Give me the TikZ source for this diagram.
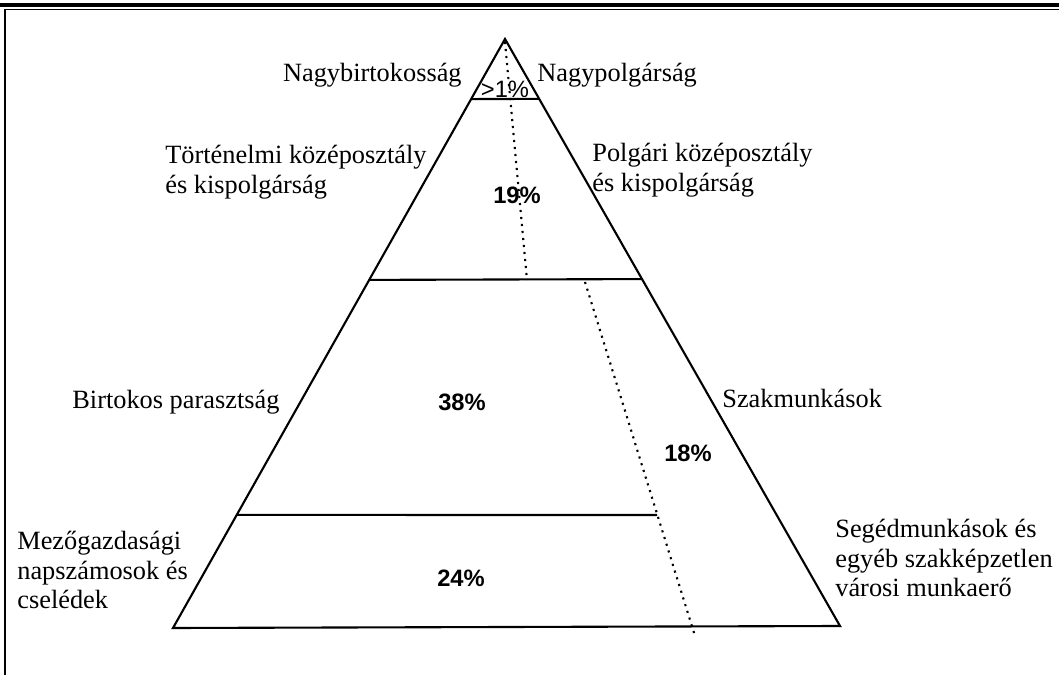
\documentclass[tikz,border=0pt]{standalone}
\usepackage{fontspec}
\setmainfont{Liberation Serif}
\newfontfamily\pctfont{Liberation Sans}
\usetikzlibrary{calc}

\tikzset{
  layerlabel/.style={font=\fontsize{15}{17}\selectfont, align=left, inner sep=0pt},
  percent/.style={font=\pctfont\bfseries\fontsize{13.5}{15}\selectfont, inner sep=0pt},
  edge/.style={line width=1.2pt},
  divider/.style={line width=1.2pt, dash pattern=on 1.2pt off 2.8pt},
}

\begin{document}
\begin{tikzpicture}[x=0.02cm,y=-0.02cm]
    \useasboundingbox (0,0) rectangle (1059,675);
    % frame
    \draw[line width=2pt] (0,5) -- (1059,5);
    \draw[line width=1pt] (5,9.5) -- (1059,9.5);
    \draw[line width=1.2pt] (5,9.5) -- (5,675);

    % pyramid
    \coordinate (apex) at (505,39);
    \coordinate (bl) at (173,628);
    \coordinate (br) at (840,626);
    \draw[edge] (apex) -- (bl) -- (br) -- cycle;

    % layer boundaries
    \draw[edge] ($(apex)!0.102!(bl)$) -- ($(apex)!0.102!(br)$);
    \draw[edge] ($(apex)!0.409!(bl)$) -- ($(apex)!0.409!(br)$);
    \coordinate (cut) at (657,515);
    \draw[edge] ($(apex)!0.808!(bl)$) -- (cut);

    % dotted dividers
    \coordinate (d1a) at (505,42);
    \coordinate (d1b) at (527,280);
    \coordinate (d2a) at (585,282);
    \coordinate (d2b) at (695,636);
    \draw[divider] (d1a) -- (d1b);
    \draw[divider] (d2a) -- (d2b);

    % labels
    \node[layerlabel, anchor=east] (nagybirt) at (462,75) {Nagybirtokosság};
    \node[layerlabel, anchor=west] (nagypolg) at (537,75) {Nagypolgárság};
    \node[font=\pctfont\fontsize{13.5}{15}\selectfont, inner sep=0pt] (ptop) at (505,89) {>1\%};
    \node[layerlabel, anchor=west] (tortenelmi) at (165,172) {Történelmi középosztály\\és kispolgárság};
    \node[layerlabel, anchor=west] (polgari) at (592,170) {Polgári középosztály\\és kispolgárság};
    \node[percent] (p19) at (517,195) {19\%};
    \node[layerlabel, anchor=west] (birtokos) at (72,402) {Birtokos parasztság};
    \node[percent] (p38) at (462,402) {38\%};
    \node[layerlabel, anchor=west] (szak) at (722,398) {Szakmunkások};
    \node[percent] (p18) at (688,453) {18\%};
    \node[layerlabel, anchor=west] (mezo) at (17,570) {Mezőgazdasági\\napszámosok és\\cselédek};
    \node[percent] (p24) at (461,578) {24\%};
    \node[layerlabel, anchor=west] (seged) at (835,558) {Segédmunkások és\\egyéb szakképzetlen\\városi munkaerő};
\end{tikzpicture}
\end{document}
